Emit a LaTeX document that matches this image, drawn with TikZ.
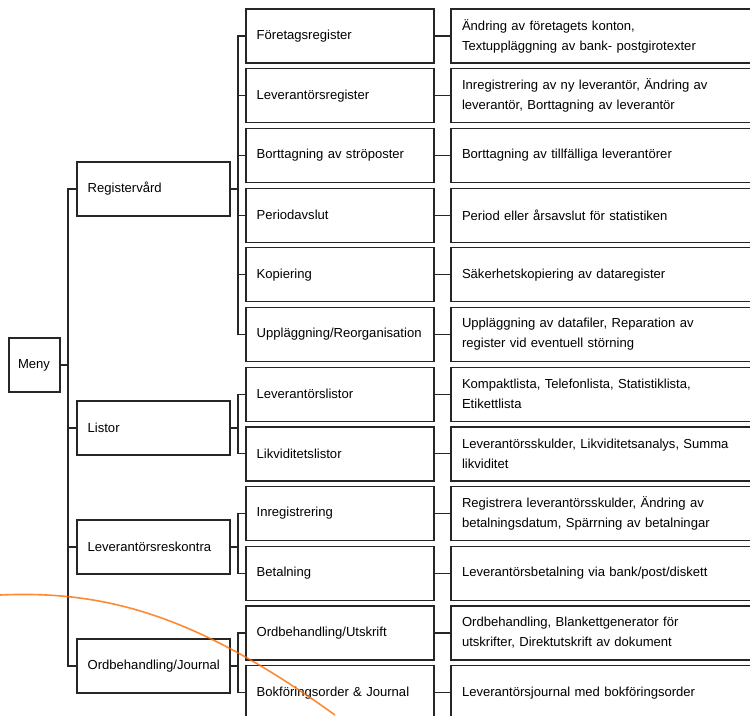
\documentclass[tikz,border=0pt]{standalone}
\usepackage{fontspec}
\setmainfont{Liberation Sans}
\usetikzlibrary{positioning}

\tikzset{
    box/.style = {draw = black!85, line width = 0.9pt, anchor = north west, inner ysep = 0pt,
        outer sep = 0pt, minimum height = 40.5pt, align = left,
        font = \fontsize{9.8}{15}\selectfont},
    menubox/.style = {box, inner xsep = 6.75pt, text width = 24.75pt},
    mainbox/.style = {box, inner xsep = 8pt, text width = 98.75pt},
    subbox/.style = {box, inner xsep = 8pt, text width = 125pt},
    infobox/.style = {box, inner xsep = 8.25pt, text width = 222.75pt},
    link/.style = {draw = black!85, line width = 0.85pt}
}

\begin{document}
\begin{tikzpicture}[x = 0.75pt, y = -0.75pt]
% Page is 750 x 715 px, y goes down.
    \useasboundingbox (0, 0) rectangle (750, 715);
    \clip (0, 0) rectangle (750, 715);

    \node [menubox] (meny) at (9, 338) {Meny};

    \node [mainbox] (reg) at (77, 162) {Registervård};
    \node [mainbox] (lis) at (77, 401) {Listor};
    \node [mainbox] (lev) at (77, 520) {Leverantörsreskontra};
    \node [mainbox] (ord) at (77, 639) {Ordbehandling/Journal};

% Second column, one row every 59.7 px.
    \foreach \lab [count = \i] in {{Företagsregister}, {Leverantörsregister},
        {Borttagning av ströposter}, {Periodavslut}, {Kopiering},
        {Uppläggning/Reorganisation}, {Leverantörslistor}, {Likviditetslistor},
        {Inregistrering}, {Betalning}, {Ordbehandling/Utskrift},
        {Bokföringsorder \& Journal}}
        \node [subbox] (r\i) at (246, {9 + 59.7 * (\i - 1)}) {\lab};

% Third column, open at the right edge.
    \foreach \lab [count = \i] in {
        {Ändring av företagets konton,\\Textuppläggning av bank- postgirotexter},
        {Inregistrering av ny leverantör, Ändring av\\leverantör, Borttagning av leverantör},
        {Borttagning av tillfälliga leverantörer},
        {Period eller årsavslut för statistiken},
        {Säkerhetskopiering av dataregister},
        {Uppläggning av datafiler, Reparation av\\register vid eventuell störning},
        {Kompaktlista, Telefonlista, Statistiklista,\\Etikettlista},
        {Leverantörsskulder, Likviditetsanalys, Summa\\likviditet},
        {Registrera leverantörsskulder, Ändring av\\betalningsdatum, Spärrning av betalningar},
        {Leverantörsbetalning via bank/post/diskett},
        {Ordbehandling, Blankettgenerator för\\utskrifter, Direktutskrift av dokument},
        {Leverantörsjournal med bokföringsorder}}
        \node [infobox] (d\i) at (451, {9 + 59.7 * (\i - 1)}) {\lab};

% Trunk from the menu.
    \foreach \k in {reg, lis, lev, ord}
        \draw [link] (meny.east) -- ++(8, 0) |- (\k.west);

% Brackets to the second column.
    \foreach \k / \a / \b in {reg/1/6, lis/7/8, lev/9/10, ord/11/12}
        \foreach \i in {\a, ..., \b}
            \draw [link] (\k.east) -- ++(8, 0) |- (r\i.west);

    \foreach \i in {1, ..., 12}
        \draw [link] (r\i.east) -- (d\i.west);

% Stray pen stroke on the sheet.
    \draw [orange!85!red, line width = 1.2pt, opacity = 0.8]
        (0, 595) .. controls (110, 590) and (200, 618) .. (335, 715);
\end{tikzpicture}
\end{document}
